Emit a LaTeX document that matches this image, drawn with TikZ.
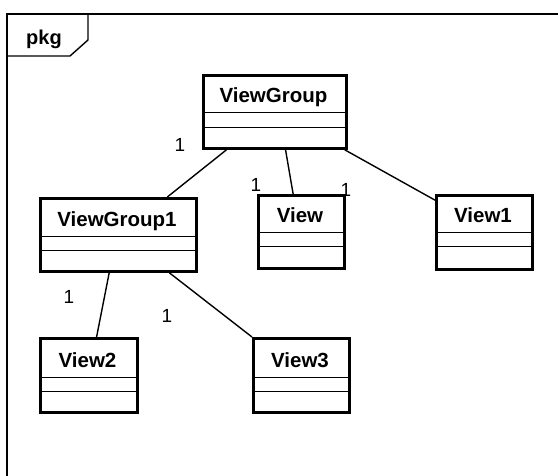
\documentclass[tikz,border=0pt]{standalone}
\usepackage{fontspec}
\setmainfont{Liberation Sans}
\usetikzlibrary{calc}
\tikzset{
  cls/.style={draw, line width=2.8pt, fill=white, inner sep=0pt, rectangle},
  sepline/.style={line width=1pt},
  clstxt/.style={inner sep=0pt, font=\fontsize{20.5}{23}\selectfont\bfseries},
  conn/.style={line width=1.4pt},
  mult/.style={inner sep=0pt, font=\fontsize{19}{21}\selectfont},
  frameline/.style={line width=1.4pt}
}
\newcommand\umlcls[8]{%
  \node[cls, minimum width={#5-#3}, minimum height={#6-#4}, anchor=north west] (#1) at (#3,#4) {};
  \draw[sepline] (#3,#7) -- (#5,#7);
  \draw[sepline] (#3,#8) -- (#5,#8);
  \node[clstxt, anchor=base] (#1-t) at ({(#3+#5)/2},{#7-10.5}) {#2};
}
\begin{document}
\begin{tikzpicture}[x=1pt,y=-1pt]
\useasboundingbox (0,0) rectangle (558,476);
% frame
\draw[frameline] (558,14) -- (7,14) -- (7,476);
\draw[frameline] (7,56) -- (70,56) -- (88,40) -- (88,14);
\node[inner sep=0pt, anchor=base, font=\fontsize{20}{22}\selectfont\bfseries] (pkg) at (44,45) {pkg};
% classes
\umlcls{vg}{ViewGroup}{202}{74}{345}{147}{113}{128}
\umlcls{vg1}{ViewGroup1}{39}{197}{195}{270}{237}{251}
\umlcls{v}{View}{257}{194}{343}{267}{233}{247}
\umlcls{v1}{View1}{435}{194}{531}{268}{233}{247}
\umlcls{v2}{View2}{39}{337}{136}{411}{378}{392}
\umlcls{v3}{View3}{252}{337}{348}{411}{378}{392}
% connectors
\draw[conn] ($(vg.south west)!0.168!(vg.south east)$) -- ($(vg1.north west)!0.808!(vg1.north east)$);
\draw[conn] ($(vg.south west)!0.573!(vg.south east)$) -- ($(v.north west)!0.407!(v.north east)$);
\draw[conn] ($(vg.south west)!0.979!(vg.south east)$) -- ($(v1.north west)!0.08!(v1.south west)$);
\draw[conn] ($(vg1.south west)!0.442!(vg1.south east)$) -- ($(v2.north west)!0.577!(v2.north east)$);
\draw[conn] ($(vg1.south west)!0.821!(vg1.south east)$) -- (v3.north west);
% multiplicities
\node[mult] (m1) at (180,145) {1};
\node[mult] (m2) at (256,185) {1};
\node[mult] (m3) at (346,190) {1};
\node[mult] (m4) at (69,297) {1};
\node[mult] (m5) at (167,316) {1};
\end{tikzpicture}
\end{document}
